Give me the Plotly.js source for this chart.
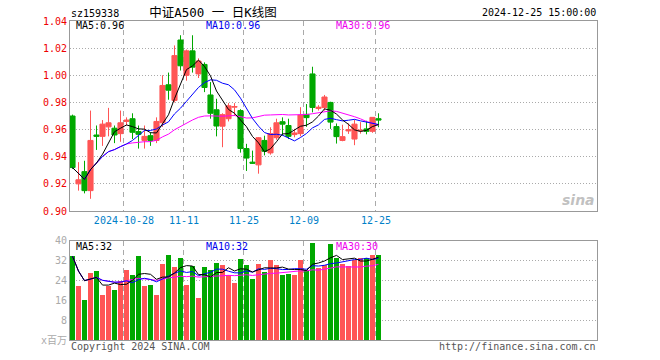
<!DOCTYPE html>
<html>
<head>
<meta charset="utf-8">
<script src="https://cdn.plot.ly/plotly-3.0.1.min.js"></script>
<style>
html,body{margin:0;padding:0;background:#fff;}
#chart{width:660px;height:360px;}
</style>
</head>
<body>
<div id="chart"></div>
<script>
// ---------------- DATA ----------------
const dates = ['2024-10-15','2024-10-16','2024-10-17','2024-10-18','2024-10-21','2024-10-22','2024-10-23','2024-10-24','2024-10-25','2024-10-28',
'2024-10-29','2024-10-30','2024-10-31','2024-11-01','2024-11-04','2024-11-05','2024-11-06','2024-11-07','2024-11-08','2024-11-11',
'2024-11-12','2024-11-13','2024-11-14','2024-11-15','2024-11-18','2024-11-19','2024-11-20','2024-11-21','2024-11-22','2024-11-25',
'2024-11-26','2024-11-27','2024-11-28','2024-11-29','2024-12-02','2024-12-03','2024-12-04','2024-12-05','2024-12-06','2024-12-09',
'2024-12-10','2024-12-11','2024-12-12','2024-12-13','2024-12-16','2024-12-17','2024-12-18','2024-12-19','2024-12-20','2024-12-23',
'2024-12-24','2024-12-25'];

const openP  = [0.970,0.920,0.929,0.915,0.956,0.955,0.962,0.961,0.957,0.966,
0.968,0.9585,0.952,0.9555,0.952,0.965,0.993,0.9815,1.026,1.000,
1.018,1.001,1.008,0.9855,0.9746,0.9625,0.968,0.9765,0.974,0.946,
0.936,0.934,0.952,0.9428,0.954,0.9658,0.963,0.9563,0.957,0.9712,
1.001,0.9755,0.9762,0.980,0.9622,0.952,0.959,0.953,0.959,0.9605,
0.9587,0.968];
const highP  = [0.971,0.936,0.937,0.974,0.963,0.967,0.976,0.963,0.974,0.969,
0.972,0.963,0.963,0.958,0.969,1.000,1.002,1.022,1.0295,1.019,
1.0295,1.0125,1.0095,0.995,0.9827,0.972,0.9795,0.9795,0.975,0.9495,
0.9445,0.9545,0.9555,0.9617,0.968,0.969,0.968,0.9605,0.9765,0.9788,
1.0063,0.978,0.9855,0.9805,0.9645,0.9636,0.9645,0.9675,0.9655,0.9665,
0.969,0.972];
const lowP   = [0.931,0.915,0.913,0.909,0.945,0.948,0.955,0.950,0.951,0.963,
0.953,0.946,0.946,0.948,0.950,0.962,0.982,0.980,1.0035,0.996,
1.002,0.998,0.9876,0.968,0.955,0.947,0.966,0.970,0.943,0.9295,
0.9348,0.9275,0.941,0.9415,0.9525,0.9556,0.953,0.9543,0.955,0.962,
0.9727,0.974,0.974,0.9605,0.9497,0.9514,0.9568,0.9485,0.957,0.9565,
0.9576,0.9617];
const closeP = [0.932,0.923,0.915,0.952,0.955,0.964,0.965,0.956,0.965,0.967,
0.958,0.9565,0.955,0.952,0.966,0.9925,0.989,1.0145,1.007,1.018,
1.006,1.0105,0.991,0.972,0.9626,0.971,0.9775,0.977,0.946,0.939,
0.9352,0.954,0.944,0.957,0.965,0.964,0.955,0.9575,0.9707,0.9688,
0.9763,0.9765,0.984,0.9655,0.9548,0.9548,0.960,0.964,0.9595,0.9587,
0.969,0.967];
// volume, millions (x百万)
const volume = [33.7,21.8,16.2,26.8,27.6,18.2,21.8,20.2,23.8,28.3,
26.3,33.7,21.8,22.2,18.2,30.7,34.3,29.5,33.1,22.2,
29.9,17.0,29.5,28.3,31.1,30.3,26.3,23.0,32.7,30.3,
24.6,30.7,27.2,32.3,30.3,26.3,26.7,26.3,32.3,28.3,
39.1,29.1,30.3,38.8,33.1,30.7,29.9,32.3,33.1,33.1,
34.1,34.1];

const tickDates  = ['2024-10-28','2024-11-11','2024-11-25','2024-12-09','2024-12-25'];
const tickLabels = ['2024-10-28','11-11','11-25','12-09','12-25'];
const priceTicks = [0.90,0.92,0.94,0.96,0.98,1.00,1.02,1.04];
const volTicks   = [0,8,16,24,32,40];
const volTickLabels = ['x百万','8','16','24','32','40'];
const priceLegend = ['MA5:0.96','MA10:0.96','MA30:0.96'];
const volLegend   = ['MA5:32','MA10:32','MA30:30'];
const stockCode = 'sz159338';
const chartTitle = '中证A500 一 日K线图';
const stamp = '2024-12-25 15:00:00';

// ---------------- HELPERS ----------------
const RED = '#ff5555', GREEN = '#00a800';
const MONO = 'DejaVu Sans Mono, Liberation Mono, Noto Sans CJK SC, monospace';
function ma(arr, n){
  return arr.map((_, i) => {
    const s = Math.max(0, i - n + 1);
    let sum = 0;
    for (let k = s; k <= i; k++) sum += arr[k];
    return sum / (i - s + 1);
  });
}
const idx = dates.map((d, i) => i);
const tickIdx = tickDates.map(d => dates.indexOf(d) - 0.42);
const volColors = closeP.map((c, i) => c >= openP[i] ? RED : GREEN);

// plot area in pixels: x 70..597, y 21..340
const L = 70, R = 597, T = 21, B = 340;
const px = x => (x - L) / (R - L);
const py = y => (B - y) / (B - T);

const traces = [
  {type:'candlestick', x: idx, open: openP, high: highP, low: lowP, close: closeP,
   xaxis:'x', yaxis:'y', hoverinfo:'skip', whiskerwidth:0,
   increasing:{line:{color:RED, width:1}, fillcolor:RED},
   decreasing:{line:{color:GREEN, width:1}, fillcolor:GREEN}},
  {type:'scatter', mode:'lines', x: idx, y: ma(closeP,30), xaxis:'x', yaxis:'y', line:{color:'#ff00ff', width:1}, hoverinfo:'skip'},
  {type:'scatter', mode:'lines', x: idx, y: ma(closeP,10), xaxis:'x', yaxis:'y', line:{color:'#0000ff', width:1}, hoverinfo:'skip'},
  {type:'scatter', mode:'lines', x: idx, y: ma(closeP,5), xaxis:'x', yaxis:'y', line:{color:'#000000', width:1}, hoverinfo:'skip'},
  {type:'bar', x: idx, y: volume, xaxis:'x2', yaxis:'y2', width:0.85, marker:{color: volColors, line:{width:0}}, hoverinfo:'skip'},
  {type:'scatter', mode:'lines', x: idx, y: ma(volume,30), xaxis:'x2', yaxis:'y2', line:{color:'#ff00ff', width:1}, hoverinfo:'skip'},
  {type:'scatter', mode:'lines', x: idx, y: ma(volume,10), xaxis:'x2', yaxis:'y2', line:{color:'#0000ff', width:1}, hoverinfo:'skip'},
  {type:'scatter', mode:'lines', x: idx, y: ma(volume,5), xaxis:'x2', yaxis:'y2', line:{color:'#000000', width:1}, hoverinfo:'skip'}
];

const xr = [-0.417, 87.42];
const gridC = '#aaaaaa';
const axisBase = {showline:true, mirror:true, linecolor:'#999999', linewidth:1, zeroline:false, fixedrange:true};

function ann(text, x, y, color, xanchor, size){
  return {text, x: px(x), y: py(y), xref:'paper', yref:'paper', showarrow:false,
    xanchor: xanchor || 'left', yanchor:'middle', font:{family:MONO, size: size || 10, color}};
}

const layout = {
  width:660, height:360,
  margin:{l:L, r:660-R, t:T, b:360-B, pad:0},
  paper_bgcolor:'#ffffff', plot_bgcolor:'#ffffff',
  showlegend:false,
  boxgap:0.15, boxgroupgap:0,
  bargap:0,
  title:{text: chartTitle, x: 213/660, xref:'container', y: 1 - 12.5/360, yref:'container',
         xanchor:'center', yanchor:'middle', font:{family:MONO, size:12.5, color:'#000'}},
  xaxis: Object.assign({}, axisBase, {domain:[0,1], anchor:'y', range:xr, rangeslider:{visible:false},
    tickmode:'array', tickvals: tickIdx, ticktext: tickLabels, ticks:'',
    showgrid:true, gridcolor:gridC, griddash:'5px,4px', gridwidth:1,
    tickfont:{family:MONO, size:10, color:'#0080c8'}}),
  yaxis: Object.assign({}, axisBase, {domain:[py(211), 1], anchor:'x', range:[0.90,1.04],
    tickmode:'array', tickvals: priceTicks, tickformat:'.2f', ticks:'',
    showgrid:true, gridcolor:gridC, griddash:'1px,2px', gridwidth:1,
    tickfont:{family:MONO, size:10, color:'#ee0000'}}),
  xaxis2: Object.assign({}, axisBase, {domain:[0,1], anchor:'y2', range:xr, matches:'x',
    tickmode:'array', tickvals: tickIdx, showticklabels:false, ticks:'',
    showgrid:true, gridcolor:gridC, griddash:'5px,4px', gridwidth:1}),
  yaxis2: Object.assign({}, axisBase, {domain:[0, py(240.7)], anchor:'x2', range:[0,40],
    tickmode:'array', tickvals: volTicks, ticktext: volTickLabels, ticks:'',
    showgrid:true, gridcolor:gridC, griddash:'1px,2px', gridwidth:1,
    tickfont:{family:MONO, size:10, color:'#aaaaaa'}}),
  annotations:[
    ann(stockCode, 69, 13, '#000'),
    ann(stamp, 598, 12.5, '#000', 'right'),
    ann(priceLegend[0], 74, 26, '#000'),
    ann(priceLegend[1], 204, 26, '#0000ee'),
    ann(priceLegend[2], 334, 26, '#ee00ee'),
    ann(volLegend[0], 74, 246, '#000'),
    ann(volLegend[1], 204, 246, '#0000ee'),
    ann(volLegend[2], 334, 246, '#ee00ee'),
    ann('Copyright 2024 SINA.COM', 69, 346.5, '#555555'),
    ann('http://finance.sina.com.cn', 598, 346.5, '#555555', 'right'),
    {text:'<b><i>sina</i></b>', x: px(597), y: py(200), xref:'paper', yref:'paper', showarrow:false,
     xanchor:'right', yanchor:'middle', font:{family:'DejaVu Sans, sans-serif', size:14, color:'rgba(140,140,140,0.55)'}}
  ]
};

Plotly.newPlot('chart', traces, layout, {displayModeBar:false, staticPlot:true});
</script>
</body>
</html>
